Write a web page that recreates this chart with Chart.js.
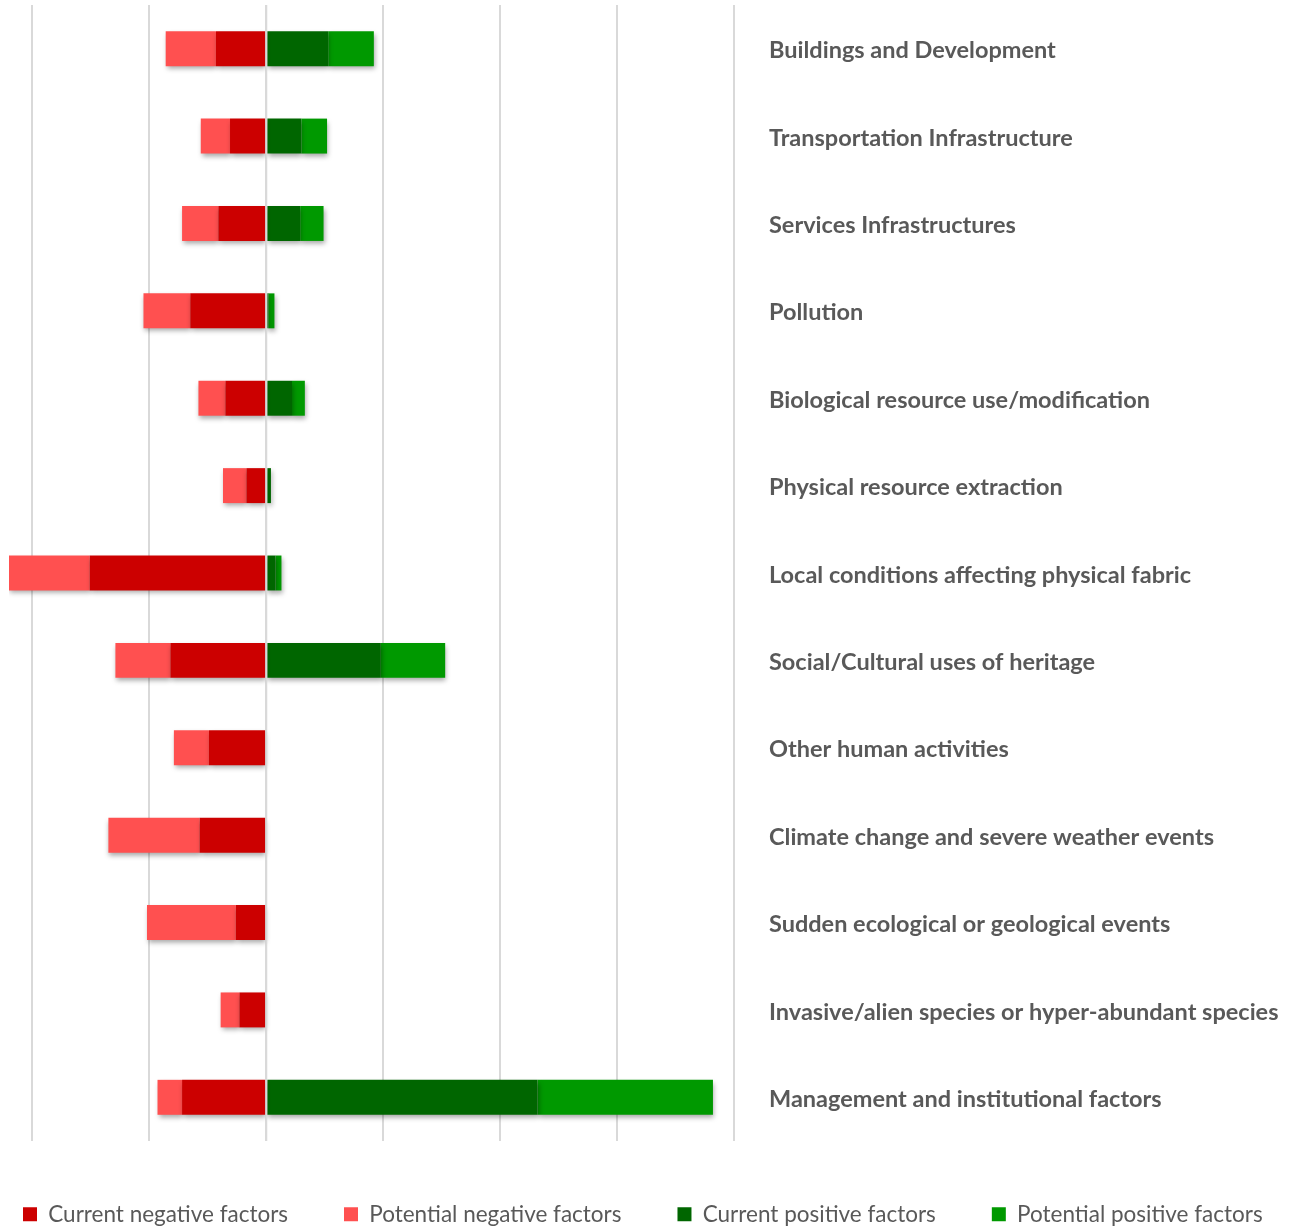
<!DOCTYPE html>
<html>
<head>
<meta charset="utf-8">
<script src="https://cdn.jsdelivr.net/npm/chart.js@4/dist/chart.umd.min.js"></script>
<style>
  html, body { margin: 0; padding: 0; background: #fff; }
  #wrap { width: 1299px; height: 1229px; }
</style>
</head>
<body>
<div id="wrap"><canvas id="threatChart"></canvas></div>
<script>
// categories, top to bottom
var categories = [
  "Buildings and Development",
  "Transportation Infrastructure",
  "Services Infrastructures",
  "Pollution",
  "Biological resource use/modification",
  "Physical resource extraction",
  "Local conditions affecting physical fabric",
  "Social/Cultural uses of heritage",
  "Other human activities",
  "Climate change and severe weather events",
  "Sudden ecological or geological events",
  "Invasive/alien species or hyper-abundant species",
  "Management and institutional factors"
];

// magnitudes, negatives are drawn to the left of zero
var currentNegative   = [4.3, 3.1, 4.1, 6.5, 3.5, 1.7, 15.1, 8.2, 4.9, 5.7, 2.6, 2.3, 7.2];
var potentialNegative = [4.3, 2.5, 3.1, 4.0, 2.3, 2.0, 6.9, 4.7, 3.0, 7.8, 7.6, 1.6, 2.1];
var currentPositive   = [5.3, 3.0, 2.9, 0.2, 2.2, 0.4, 0.8, 9.8, 0, 0, 0, 0, 23.2];
var potentialPositive = [3.9, 2.2, 2.0, 0.5, 1.1, 0, 0.5, 5.5, 0, 0, 0, 0, 15.0];

var gridTicks = [-20, -10, 0, 10, 20, 30, 40];

var grey = "#595959";
var legendGap = 56;

// soft drop shadow under the bars
var barShadow = {
  id: "barShadow",
  beforeDatasetDraw: function (chart) {
    var ctx = chart.ctx;
    ctx.save();
    ctx.shadowColor = "rgba(0,0,0,0.35)";
    ctx.shadowBlur = 5;
    ctx.shadowOffsetX = 1;
    ctx.shadowOffsetY = 3;
  },
  afterDatasetDraw: function (chart) {
    chart.ctx.restore();
  }
};

// the zero line sits on top of the bars
var zeroLine = {
  id: "zeroLine",
  afterDatasetsDraw: function (chart) {
    var ctx = chart.ctx;
    var x = chart.scales.x.getPixelForValue(0);
    ctx.save();
    ctx.strokeStyle = "#d9d9d9";
    ctx.lineWidth = 2;
    ctx.beginPath();
    ctx.moveTo(x, chart.chartArea.top);
    ctx.lineTo(x, chart.chartArea.bottom);
    ctx.stroke();
    ctx.restore();
  }
};

// keep the legend on one row, fixed height, starting near the left edge
var legendFit = {
  id: "legendFit",
  beforeInit: function (chart) {
    var legend = chart.legend;
    var fit = legend.fit;
    legend.fit = function () {
      var w = this.maxWidth;
      this.maxWidth = 3000;
      fit.bind(this)();
      this.maxWidth = w;
      this.width = w;
      this.height = 82;
    };
    var draw = legend.draw;
    legend.draw = function () {
      var l = this.left, r = this.right;
      this.left = 23 - legendGap;
      this.right = 3000;
      draw.bind(this)();
      this.left = l;
      this.right = r;
    };
  }
};

var ctx = document.getElementById("threatChart");
new Chart(ctx, {
  type: "bar",
  data: {
    labels: categories,
    datasets: [
      {
        label: "Current negative factors",
        data: currentNegative.map(function (v) { return -v; }),
        backgroundColor: "#CC0000"
      },
      {
        label: "Potential negative factors",
        data: potentialNegative.map(function (v) { return -v; }),
        backgroundColor: "#FF5050"
      },
      {
        label: "Current positive factors",
        data: currentPositive,
        backgroundColor: "#006600"
      },
      {
        label: "Potential positive factors",
        data: potentialPositive,
        backgroundColor: "#009900"
      }
    ]
  },
  options: {
    indexAxis: "y",
    responsive: true,
    maintainAspectRatio: false,
    animation: false,
    datasets: {
      bar: {
        categoryPercentage: 1,
        barPercentage: 0.4,
        borderWidth: 0
      }
    },
    layout: {
      padding: { left: 9, top: 5, right: 0, bottom: 0 }
    },
    scales: {
      x: {
        stacked: true,
        min: -22,
        max: 40,
        afterBuildTicks: function (scale) {
          scale.ticks = gridTicks.map(function (v) { return { value: v }; });
        },
        afterFit: function (scale) {
          scale.height = 6;
        },
        ticks: { display: false },
        grid: { color: "#d9d9d9", lineWidth: 2, drawTicks: false },
        border: { display: false }
      },
      y: {
        stacked: true,
        position: "right",
        afterFit: function (scale) {
          scale.width = 1299 - 734;
          scale.paddingTop = 0;
          scale.paddingBottom = 0;
        },
        grid: { display: false, drawTicks: false },
        border: { display: false },
        ticks: {
          crossAlign: "near",
          padding: 35,
          labelOffset: 2,
          color: grey,
          font: { family: "Lato", size: 23.5, weight: "bold" }
        }
      }
    },
    plugins: {
      legend: {
        position: "bottom",
        align: "start",
        labels: {
          boxWidth: 14,
          boxHeight: 14,
          padding: legendGap,
          color: grey,
          font: { family: "Lato", size: 22.5 }
        }
      },
      tooltip: { enabled: false }
    }
  },
  plugins: [barShadow, zeroLine, legendFit]
});
</script>
</body>
</html>
